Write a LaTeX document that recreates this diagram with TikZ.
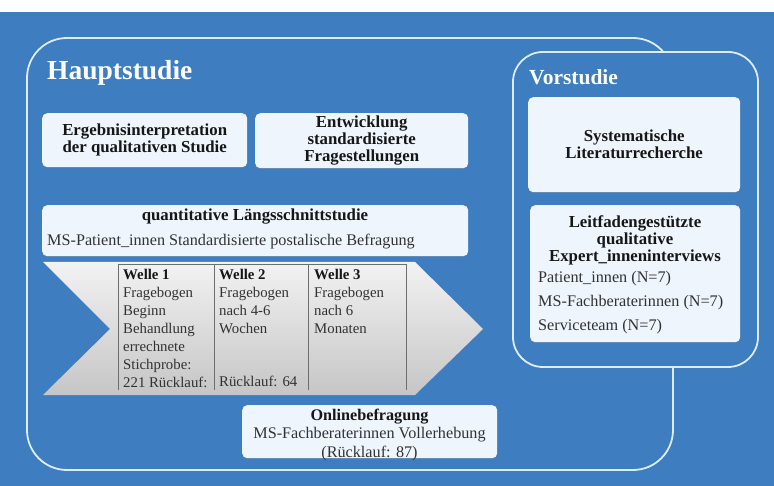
\documentclass[tikz,border=0pt]{standalone}
\usepackage{fontspec}
\setmainfont{Liberation Serif}
\usetikzlibrary{shadows}
\definecolor{bgblue}{RGB}{62,125,192}
\definecolor{boxfill}{RGB}{238,245,252}
\definecolor{framecol}{RGB}{222,235,249}
\definecolor{txt}{RGB}{22,22,22}
\definecolor{txtreg}{RGB}{50,50,50}
\definecolor{tabline}{RGB}{110,110,110}
\begin{document}
\begin{tikzpicture}[x=1pt,y=-1pt,
  frame/.style={draw=framecol, line width=1.8pt},
  box/.style={fill=boxfill, rounded corners=5pt, anchor=north west, inner sep=0pt,
    text=txt, align=center,
    drop shadow={shadow xshift=0pt, shadow yshift=-1.3pt, opacity=0.3}},
  boldtxt/.style={font=\fontsize{16.8}{17}\selectfont\bfseries, text=txt, align=center, inner sep=0pt},
  regtxt/.style={font=\fontsize{16.2}{17}\selectfont, text=txtreg, inner sep=0pt},
  tabtxt/.style={font=\fontsize{14.8}{18}\selectfont, text=txtreg, align=left, inner sep=0pt, anchor=north west},
  title/.style={font=\bfseries, text=white, inner sep=0pt, anchor=base west}
]
\useasboundingbox (0,0) rectangle (774,486);
% background
\fill[bgblue] (0,0) rectangle (774,486);
\fill[white] (0,0) rectangle (774,12);
% Hauptstudie frame
\draw[frame, rounded corners=40pt] (27,38) rectangle (673,470);
% Vorstudie frame
\draw[frame, fill=bgblue, rounded corners=30pt] (513,52) rectangle (758,367);
% titles
\node[title, font=\fontsize{27.5}{30}\selectfont\bfseries] (haupt) at (47,80) {Hauptstudie};
\node[title, font=\fontsize{21.5}{22}\selectfont\bfseries] (vor) at (529,85) {Vorstudie};
% upper boxes
\node[box, boldtxt, minimum width=205pt, minimum height=54pt] (erg) at (42,113)
  {Ergebnisinterpretation\\der qualitativen Studie};
\node[box, boldtxt, minimum width=213pt, minimum height=55pt] (entw) at (255,113)
  {Entwicklung\\standardisierte\\Fragestellungen};
% quantitative box
\node[box, minimum width=426pt, minimum height=51pt] (quant) at (42,205) {};
\node[boldtxt] (quanttitle) at (255,217) {quantitative Längsschnittstudie};
\node[regtxt, anchor=base west] (quantsub) at (47,246) {MS-Patient\_innen Standardisierte postalische Befragung};
% arrow
\shade[top color=gray!10, bottom color=gray!45]
  (43,262) -- (415,262) -- (483,329) -- (415,395) -- (43,395) -- (110,329) -- cycle;
\draw[tabline, line width=1pt] (118,390) -- (118,265) -- (406,265) -- (406,390);
\draw[tabline, line width=1pt] (214,265) -- (214,390);
\draw[tabline, line width=1pt] (308,265) -- (308,390);
\node[tabtxt] (w1) at (123,269)
  {\textbf{\color{txt}Welle 1}\\Fragebogen\\Beginn\\Behandlung\\errechnete\\Stichprobe:\\221 Rücklauf:};
\node[tabtxt] (w2) at (219,269)
  {\textbf{\color{txt}Welle 2}\\Fragebogen\\nach 4-6\\Wochen};
\node[tabtxt, anchor=base west] (w2r) at (219,387) {Rücklauf: 64};
\node[tabtxt] (w3) at (314,269)
  {\textbf{\color{txt}Welle 3}\\Fragebogen\\nach 6\\Monaten};
% online box
\node[box, minimum width=255pt, minimum height=53pt] (online) at (242,405) {};
\node[align=center, inner sep=0pt, text=txtreg, font=\fontsize{16.2}{18.5}\selectfont] (onlinetxt) at (369.5,435)
  {\textbf{\color{txt}Onlinebefragung}\\MS-Fachberaterinnen Vollerhebung\\(Rücklauf: 87)};
% Vorstudie boxes
\node[box, boldtxt, minimum width=212pt, minimum height=95pt] (syst) at (528,97)
  {Systematische\\Literaturrecherche};
\node[box, minimum width=210pt, minimum height=137pt] (leit) at (530,205) {};
\node[boldtxt] (leittitle) at (635,240) {Leitfadengestützte\\qualitative\\Expert\_inneninterviews};
\node[regtxt, anchor=base west] (l1) at (538,283) {Patient\_innen (N=7)};
\node[regtxt, anchor=base west] (l2) at (538,307) {MS-Fachberaterinnen (N=7)};
\node[regtxt, anchor=base west] (l3) at (538,331) {Serviceteam (N=7)};
\end{tikzpicture}
\end{document}
